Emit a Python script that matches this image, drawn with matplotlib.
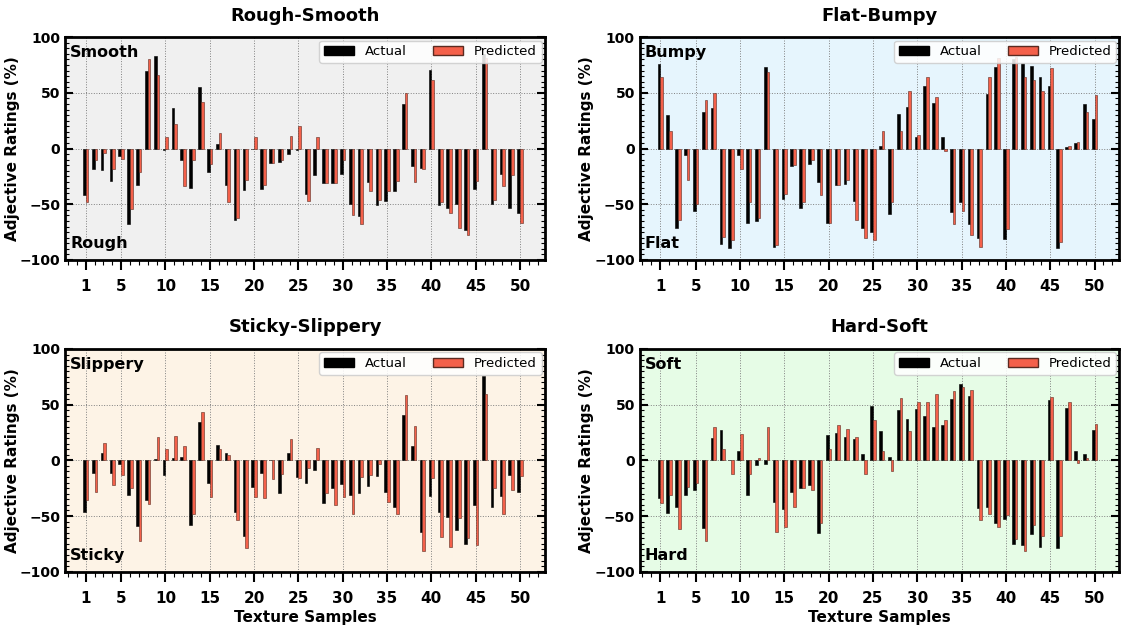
import numpy as np
import matplotlib
matplotlib.use('Agg')
import matplotlib.pyplot as plt
from matplotlib.patches import Patch
from matplotlib.ticker import MultipleLocator

samples = np.arange(1, 51)

# Rough-Smooth
act_rs = [-42, -18, -19, -29, -7, -68, -33, 70, 83, -1, 36, -10, -35, 55, -21, 4, -33, -64, -37, -0.5,
          -36, -13, -12, -5, -1, -41, -24, -31, -31, -23, -50, -61, -30, -51, -47, -38, 40, -16, -17, 71,
          -51, -53, -50, -73, -36, 85, -50, -23, -53, -58]
pred_rs = [-48, -10, -4, -18, -9, -54, -21, 80, 66, 10, 22, -34, -10, 42, -14, 14, -48, -62, -28, 10,
           -33, -13, -10, 11, 20, -47, 10, -31, -31, -10, -60, -68, -38, -46, -38, -29, 50, -30, -18, 62,
           -48, -58, -71, -78, -29, 81, -46, -34, -24, -67]

# Flat-Bumpy
act_fb = [76, 30, -71, -6, -56, 33, 36, -86, -89, -6, -67, -65, 73, -88, -45, -16, -53, -14, -30, -67,
          -33, -32, -47, -71, -75, 2, -59, 31, 37, 10, 56, 41, 10, -57, -48, -68, -80, 49, 73, -81,
          80, 77, 74, 64, 56, -89, 1, 5, 40, 27]
pred_fb = [64, 16, -64, -28, -50, 44, 50, -79, -82, -18, -48, -62, 69, -87, -41, -15, -48, -10, -42, -67,
           -33, -28, -64, -80, -82, 16, -48, 16, 52, 12, 64, 46, -2, -68, -56, -78, -88, 64, 81, -72,
           82, 64, 62, 52, 72, -84, 2, 6, 33, 48]

# Sticky-Slippery
act_ss = [-46, -11, 7, -11, -3, -31, -59, -36, 1, -13, 2, 3, -58, 34, -20, 14, 7, -46, -68, -24,
          -11, 0, -29, 7, -15, -20, -9, -38, -25, -21, -31, -29, -23, -14, -28, -42, 41, 13, -64, -32,
          -46, -51, -63, -75, -40, 76, -42, -32, -13, -28]
pred_ss = [-36, -28, 16, -22, -13, -25, -72, -39, 21, 10, 22, 13, -48, 43, -33, 10, 5, -54, -79, -33,
           -34, -17, -12, 19, -16, -7, 11, -29, -40, -33, -48, -15, -13, -3, -37, -48, 59, 31, -81, -16,
           -69, -78, -52, -70, -76, 60, -25, -48, -27, -14]

# Hard-Soft
act_hs = [-34, -47, -42, -31, -27, -61, 20, 27, 0, 8, -31, -4, -3, -37, -44, -28, -25, -22, -65, 23,
          25, 21, 19, 6, 49, 26, 3, 45, 37, 46, 40, 30, 32, 55, 69, 58, -43, -42, -56, -53,
          -75, -76, -66, -78, 54, -79, 47, 8, 6, 27]
pred_hs = [-38, -31, -62, -24, -20, -72, 30, 10, -12, 24, -12, 2, 30, -64, -60, -42, -25, -27, -56, 10,
           32, 28, 21, -12, 36, 8, -10, 56, 26, 52, 52, 60, 36, 62, 66, 63, -54, -48, -60, -49,
           -71, -81, -58, -68, 57, -68, 52, -2, 2, 33]

titles = ['Rough-Smooth', 'Flat-Bumpy', 'Sticky-Slippery', 'Hard-Soft']
top_words = ['Smooth', 'Bumpy', 'Slippery', 'Soft']
bottom_words = ['Rough', 'Flat', 'Sticky', 'Hard']
actuals = [act_rs, act_fb, act_ss, act_hs]
preds = [pred_rs, pred_fb, pred_ss, pred_hs]
bgs = ['#f0f0f0', '#e6f5fd', '#fdf3e6', '#e6fce6']
xticks = [1, 5, 10, 15, 20, 25, 30, 35, 40, 45, 50]

red = '#f4604a'
w = 0.3

fig, axs = plt.subplots(2, 2, figsize=(11.25, 6.31), dpi=100)
fig.subplots_adjust(left=0.058, right=0.995, top=0.941, bottom=0.094, wspace=0.198, hspace=0.40)

for i, ax in enumerate(axs.flat):
    ax.set_facecolor(bgs[i])
    ax.set_axisbelow(True)
    ax.bar(samples - w/2, actuals[i], width=w, color='black', edgecolor='black', linewidth=0.4)
    ax.bar(samples + w/2, preds[i], width=w, color=red, edgecolor='#5a2a20', linewidth=0.4)
    ax.set_xlim(-1.3, 52.8)
    ax.set_ylim(-100, 100)
    ax.set_xticks(xticks)
    ax.set_xticklabels([str(t) for t in xticks], fontsize=11, fontweight='bold')
    ax.xaxis.set_minor_locator(MultipleLocator(1))
    ax.set_yticks([-100, -50, 0, 50, 100])
    ax.set_yticklabels(['\u2212100', '\u221250', '0', '50', '100'], fontsize=10, fontweight='bold')
    ax.yaxis.set_minor_locator(MultipleLocator(5))
    ax.tick_params(axis='x', which='major', direction='out', length=7, width=1.5, pad=7)
    ax.tick_params(axis='x', which='minor', direction='out', length=3.5, width=0.8)
    ax.tick_params(axis='y', which='major', direction='in', length=6, width=1.5, left=True, right=True)
    ax.tick_params(axis='y', which='minor', direction='in', length=3, width=0.8, left=True, right=True)
    ax.grid(True, which='major', ls=':', color='gray', lw=0.7)
    for s in ax.spines.values():
        s.set_linewidth(2)
    ax.set_title(titles[i], fontsize=13, fontweight='bold', pad=12)
    ax.set_ylabel('Adjective Ratings (%)', fontsize=11, fontweight='bold')
    ax.yaxis.set_label_coords(-0.095, 0.5)
    if i >= 2:
        ax.set_xlabel('Texture Samples', fontsize=11, fontweight='bold', labelpad=3)
    ax.text(0.01, 0.965, top_words[i], transform=ax.transAxes, fontsize=11.5, fontweight='bold',
            va='top', ha='left')
    ax.text(0.01, 0.04, bottom_words[i], transform=ax.transAxes, fontsize=11.5, fontweight='bold',
            va='bottom', ha='left')
    handles = [Patch(facecolor='black', edgecolor='black', label='Actual'),
               Patch(facecolor=red, edgecolor='#5a2a20', label='Predicted')]
    ax.legend(handles=handles, loc='upper right', ncol=2, fontsize=9.5, framealpha=0.85,
              borderaxespad=0.25, handlelength=2.3, columnspacing=2.0, borderpad=0.35)

fig.savefig('out.png', dpi=100)
